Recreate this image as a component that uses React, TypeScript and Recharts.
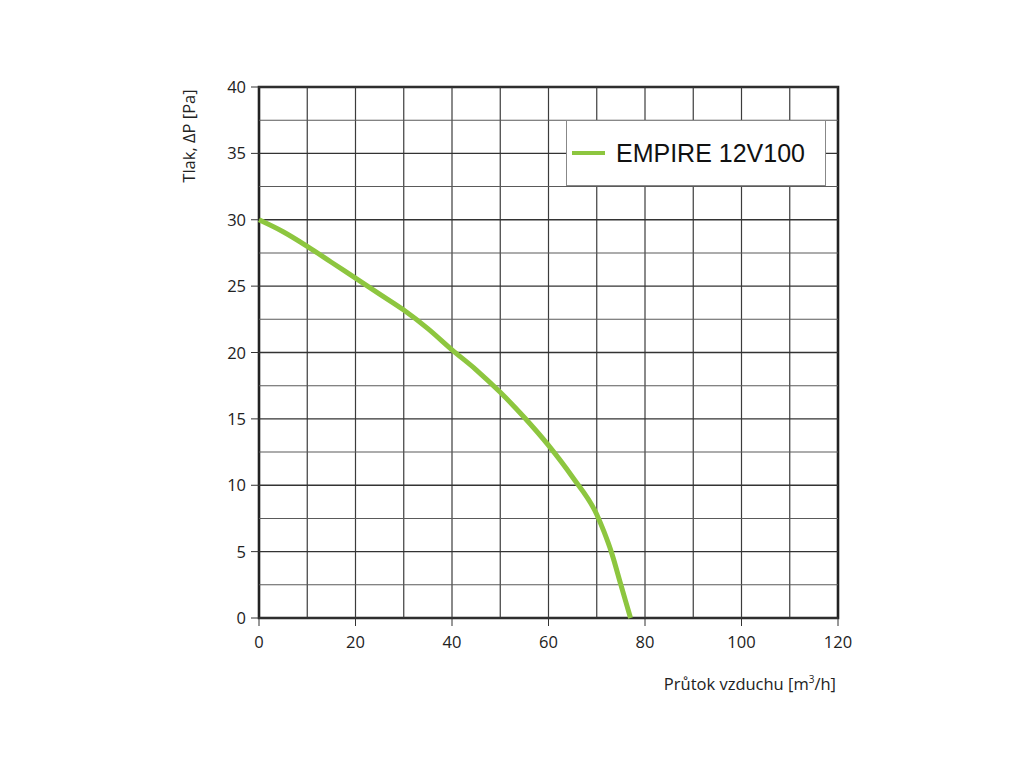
import React from 'react';
import {
  Line,
  LineChart,
  ReferenceArea,
  ReferenceLine,
  XAxis,
  YAxis,
} from 'recharts';

const flow = [0, 5, 10, 15, 20, 25, 30, 35, 40, 45, 50, 55, 60, 65, 70, 71.5, 73, 75, 77];
const pressure = [30, 29.1, 28, 26.8, 25.6, 24.4, 23.2, 21.8, 20.2, 18.7, 17, 15.1, 13, 10.6, 7.8, 6.5, 5, 2.5, 0];
const xTicks = [0, 20, 40, 60, 80, 100, 120];
const xGrid = [10, 20, 30, 40, 50, 60, 70, 80, 90, 100, 110];
const yTicks = [0, 5, 10, 15, 20, 25, 30, 35, 40];
const yMinor = [2.5, 7.5, 12.5, 17.5, 22.5, 27.5, 32.5, 37.5];
const seriesName = 'EMPIRE 12V100';

const data = flow.map((x, i) => ({ x, p: pressure[i] }));

const FONT = '"Open Sans", "DejaVu Sans", sans-serif';

function YTick(props: any) {
  const { x, y, payload } = props;
  return (
    <g>
      <line x1={x} x2={x + 8} y1={y} y2={y} stroke="#333" strokeWidth={1} />
      <text x={x - 5} y={y} dy={6} textAnchor="end" fontSize={16.5} fill="#222" fontFamily={FONT}>
        {payload.value}
      </text>
    </g>
  );
}

function XTick(props: any) {
  const { x, y, payload } = props;
  return (
    <g>
      <line x1={x} x2={x} y1={y - 8} y2={y} stroke="#333" strokeWidth={1} />
      <text x={x} y={y + 22} textAnchor="middle" fontSize={16.5} fill="#222" fontFamily={FONT}>
        {payload.value}
      </text>
    </g>
  );
}

function LegendBox() {
  return (
    <div
      style={{
        position: 'absolute',
        left: 566,
        top: 120,
        width: 260,
        height: 66,
        border: '1px solid #888',
        background: '#fff',
        display: 'flex',
        alignItems: 'center',
        boxSizing: 'border-box',
      }}
    >
      <div style={{ width: 33, height: 4, background: '#8dc63f', marginLeft: 5, marginRight: 11 }} />
      <span style={{ fontFamily: '"Liberation Sans", Arial, sans-serif', fontSize: 25, color: '#111' }}>
        {seriesName}
      </span>
    </div>
  );
}

export default function App() {
  return (
    <div style={{ position: 'absolute', left: 0, top: 0, width: 1024, height: 768, background: '#fff' }}>
      <LineChart
        width={1024}
        height={768}
        data={data}
        margin={{ top: 87, right: 186, bottom: 120, left: 199 }}
      >
        {xGrid.map((v) => (
          <ReferenceLine key={'vx' + v} x={v} stroke="#3c3c3c" strokeWidth={1.2} />
        ))}
        {yTicks.map((v) => (
          <ReferenceLine key={'hy' + v} y={v} stroke="#333" strokeWidth={1.3} />
        ))}
        {yMinor.map((v) => (
          <ReferenceLine key={'my' + v} y={v} stroke="#5a5a5a" strokeWidth={1.1} />
        ))}
        <ReferenceArea x1={0} x2={120} y1={0} y2={40} fill="none" stroke="#222" strokeWidth={2.6} ifOverflow="visible" />
        <XAxis
          dataKey="x"
          type="number"
          domain={[0, 120]}
          ticks={xTicks}
          interval={0}
          axisLine={false}
          tickLine={false}
          tick={<XTick />}
          height={30}
          label={{
            content: () => (
              <text x={836} y={690} textAnchor="end" fontSize={16.5} fill="#222" fontFamily={FONT}>
                Průtok vzduchu [m
                <tspan dy={-7} fontSize={10}>3</tspan>
                <tspan dy={7}>/h]</tspan>
              </text>
            ),
          }}
        />
        <YAxis
          type="number"
          domain={[0, 40]}
          ticks={yTicks}
          interval={0}
          axisLine={false}
          tickLine={false}
          tick={<YTick />}
          width={60}
          label={{
            content: () => (
              <text
                transform="translate(195,136) rotate(-90)"
                textAnchor="middle"
                fontSize={16.5}
                fill="#222"
                fontFamily={FONT}
              >
                Tlak, ΔP [Pa]
              </text>
            ),
          }}
        />
        <Line
          type="monotone"
          dataKey="p"
          name={seriesName}
          stroke="#8dc63f"
          strokeWidth={5}
          dot={false}
          isAnimationActive={false}
        />
      </LineChart>
      <LegendBox />
    </div>
  );
}
